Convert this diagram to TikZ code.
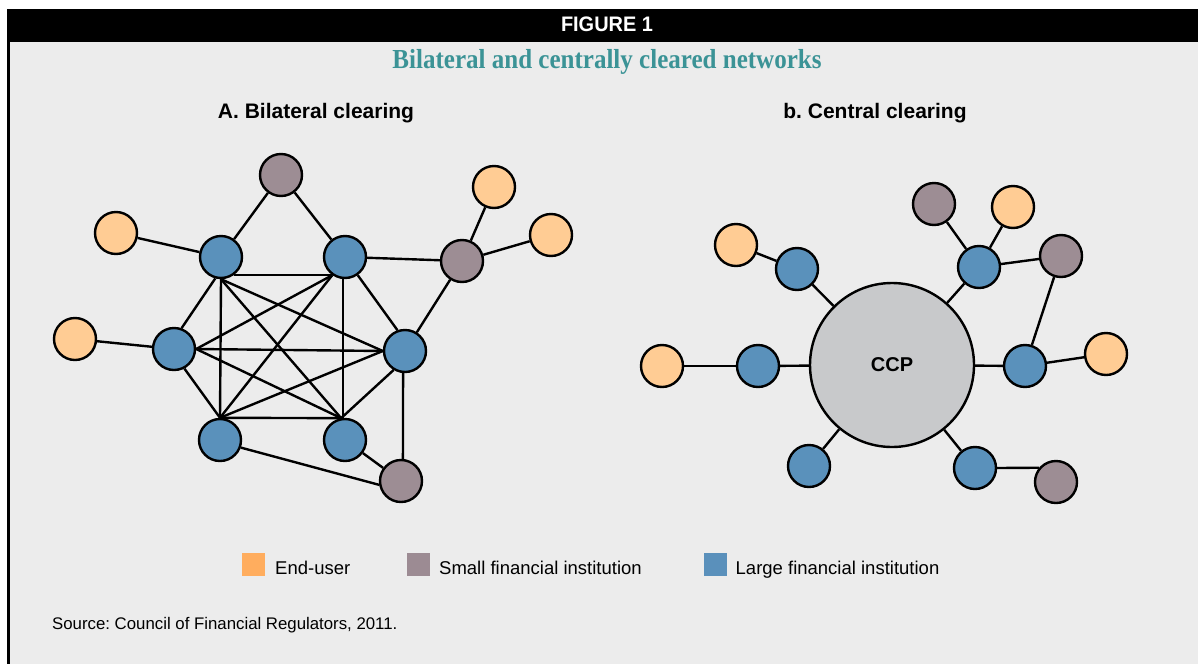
\documentclass[tikz,border=0pt]{standalone}
\usepackage{fontspec}
\setmainfont{Liberation Sans}
\newfontfamily\titlefont[FakeStretch=0.91]{Liberation Serif}
\newfontfamily\figfont[FakeStretch=0.95]{Liberation Sans}
\definecolor{bgc}{HTML}{ECECEC}
\definecolor{eucol}{HTML}{FFCC94}
\definecolor{sfcol}{HTML}{9D8D94}
\definecolor{lfcol}{HTML}{5A91BB}
\definecolor{ccpcol}{HTML}{C8C9CB}
\definecolor{titlecol}{HTML}{3B9396}
\definecolor{eulegend}{HTML}{FFAD5E}
\definecolor{sflegend}{HTML}{9C8B93}
\definecolor{lflegend}{HTML}{5A90BB}
\tikzset{
  nd/.style={circle, draw=black, line width=2.4pt, minimum size=42pt, inner sep=0pt},
  eu/.style={nd, fill=eucol},
  sf/.style={nd, fill=sfcol},
  lf/.style={nd, fill=lfcol},
  ccpnode/.style={circle, draw=black, line width=2.4pt, minimum size=164pt, inner sep=0pt, fill=ccpcol, font=\fontsize{20}{20}\selectfont\bfseries},
  edge/.style={draw=black, line width=2.4pt},
  panelhead/.style={anchor=base, inner sep=0pt, font=\fontsize{21}{21}\selectfont\bfseries},
  legsq/.style={minimum size=23pt, inner sep=0pt, draw=none},
  legtext/.style={anchor=base west, inner sep=0pt, font=\fontsize{18.5}{18.5}\selectfont}
}
\frenchspacing
\begin{document}
\frenchspacing
\begin{tikzpicture}[x=1pt, y=-1pt]
\useasboundingbox (0,0) rectangle (1198,664);
\fill[white] (0,0) rectangle (1198,664);
\fill[bgc] (9,42) rectangle (1198,664);
\fill[black] (7,9) rectangle (1198,42);
\fill[black] (7,42) rectangle (10,664);
\node[anchor=base, text=white, inner sep=0pt, font=\figfont\fontsize{21}{21}\selectfont\bfseries] (fig) at (607,31) {FIGURE 1};
\node[anchor=base, text=titlecol, inner sep=0pt, font=\titlefont\fontsize{27.5}{27.5}\selectfont\bfseries] (title) at (607,68) {Bilateral and centrally cleared networks};
\node[panelhead] (ha) at (316,118) {A. Bilateral clearing};
\node[panelhead] (hb) at (875,118) {b. Central clearing};

% ---- Panel A ----
\node[lf] (tl) at (221,257) {};
\node[lf] (tr) at (345,257) {};
\node[lf] (l) at (174,349) {};
\node[lf] (r) at (405,351) {};
\node[lf] (bl) at (220,440) {};
\node[lf] (br) at (345,440) {};
\node[sf] (s1) at (281,175) {};
\node[sf] (sr) at (462,261) {};
\node[sf] (sb) at (401,481) {};
\node[eu] (o1) at (116,233) {};
\node[eu] (o2) at (494,187) {};
\node[eu] (o3) at (551,235) {};
\node[eu] (o4) at (75,339) {};

\path[edge] (tl.-55) -- (tr.235);
\path[edge] (tl.south) -- (bl.north);
\path[edge] (tl.south) -- (br.100);
\path[edge] (tl.south) -- (r.west);
\path[edge] (tl.-105) -- (l.70);
\path[edge] (tr.235) -- (l.east);
\path[edge] (tr.235) -- (bl.north);
\path[edge] (tr.265) -- (br.95);
\path[edge] (tr.-55) -- (r.110);
\path[edge] (l.east) -- (r.west);
\path[edge] (l.-62) -- (bl.north);
\path[edge] (l.east) -- (br.100);
\path[edge] (r.west) -- (bl.north);
\path[edge] (r.-121) -- (br.100);
\path[edge] (bl.north) -- (br.100);
\path[edge] (s1) -- (tl);
\path[edge] (s1) -- (tr);
\path[edge] (o1) -- (tl);
\path[edge] (o4) -- (l);
\path[edge] (tr) -- (sr);
\path[edge] (sr) -- (o2);
\path[edge] (sr) -- (o3);
\path[edge] (sr) -- (r);
\path[edge] (r.265) -- (sb.85);
\path[edge] (br) -- (sb);
\path[edge] (bl.-20) -- (sb.190);

% ---- Panel B ----
\node[ccpnode] (ccp) at (892,365) {CCP};
\node[lf] (bul) at (797,269) {};
\node[eu] (oul) at (736,245) {};
\node[lf] (bl2) at (758,366) {};
\node[eu] (ol2) at (662,366) {};
\node[lf] (bur) at (979,267) {};
\node[sf] (ptop) at (934,204) {};
\node[eu] (otop) at (1013,207) {};
\node[sf] (pr) at (1061,256) {};
\node[lf] (br2) at (1025,366) {};
\node[eu] (or2) at (1106,354) {};
\node[lf] (bbl) at (809,466) {};
\node[lf] (bbr) at (975,468) {};
\node[sf] (pbr) at (1056,482) {};

\path[edge] (ccp) -- (bul);
\path[edge] (ccp) -- (bl2);
\path[edge] (ccp) -- (bur);
\path[edge] (ccp) -- (br2);
\path[edge] (ccp) -- (bbl);
\path[edge] (ccp) -- (bbr);
\path[edge] (bul) -- (oul);
\path[edge] (bl2) -- (ol2);
\path[edge] (bur) -- (ptop);
\path[edge] (bur) -- (otop);
\path[edge] (bur) -- (pr);
\path[edge] (pr) -- (br2);
\path[edge] (br2) -- (or2);
\path[edge] (bbr.east) -- (pbr.140);

% ---- Legend ----
\node[legsq, fill=eulegend] (leu) at (253.5,564.5) {};
\node[legtext] (teu) at (275,574) {End-user};
\node[legsq, fill=sflegend] (lsf) at (418.5,564.5) {};
\node[legtext] (tsf) at (439,574) {Small financial institution};
\node[legsq, fill=lflegend] (llf) at (715.5,564.5) {};
\node[legtext] (tlf) at (735.5,574) {Large financial institution};

\node[anchor=base west, inner sep=0pt, font=\fontsize{16.8}{16.8}\selectfont] (src) at (52,629.3) {Source: Council of Financial Regulators, 2011.};
\end{tikzpicture}
\end{document}
